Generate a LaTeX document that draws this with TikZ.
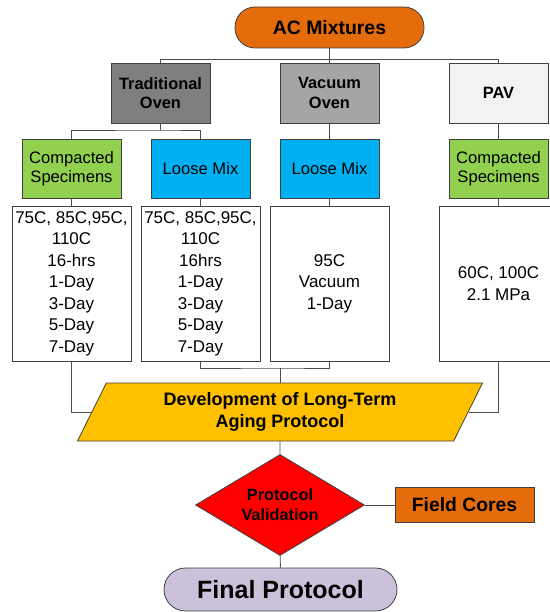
\documentclass[tikz,border=0pt]{standalone}
\usepackage{fontspec}
\setmainfont{Liberation Sans}
\usetikzlibrary{shapes.geometric}
\definecolor{acorange}{HTML}{E46C0A}
\definecolor{ovengrey}{HTML}{7F7F7F}
\definecolor{vacgrey}{HTML}{A5A5A5}
\definecolor{pavgrey}{HTML}{F2F2F2}
\definecolor{mixgreen}{HTML}{92D050}
\definecolor{mixblue}{HTML}{00B0F0}
\definecolor{protoyellow}{HTML}{FFC000}
\definecolor{finallav}{HTML}{CCC1DA}
\begin{document}
\begin{tikzpicture}[x=1pt,y=-1pt,
        box/.style={draw=black!75, line width=0.8pt, align=center, inner sep=0pt, minimum width=99pt, minimum height=60pt, font=\fontsize{16.6}{19.5}\selectfont},
        head/.style={box, font=\fontsize{16.4}{19.5}\selectfont\bfseries},
        data/.style={draw=black!75, line width=0.7pt, align=center, inner sep=0pt, minimum width=119pt, minimum height=155pt, font=\fontsize{17}{21.5}\selectfont},
        pill/.style={draw=black!75, line width=0.8pt, inner sep=0pt},
        link/.style={draw=black!70, line width=0.8pt}]
        \useasboundingbox (0,0) rectangle (549,612);
        \node[pill, fill=acorange, rounded corners=20pt, minimum width=189pt, minimum height=41pt, font=\fontsize{19.4}{22}\selectfont\bfseries] (ac) at (329.5,27.5) {AC Mixtures};
        \node[head, fill=ovengrey] (trad) at (160.5,93) {Traditional\\Oven};
        \node[head, fill=vacgrey] (vac) at (329.5,93) {Vacuum\\Oven};
        \node[head, fill=pavgrey] (pav) at (498.5,93) {PAV};
        \node[box, fill=mixgreen, minimum height=59pt] (comp1) at (71.5,168.5) {Compacted\\Specimens};
        \node[box, fill=mixblue, minimum height=59pt] (loose1) at (200.5,168.5) {Loose Mix};
        \node[box, fill=mixblue, minimum height=59pt] (loose2) at (329.5,168.5) {Loose Mix};
        \node[box, fill=mixgreen, minimum height=59pt] (comp2) at (498.5,168.5) {Compacted\\Specimens};
        \node[data] (cond1) at (71.5,283.5) {75C, 85C,95C,\\110C\\16-hrs\\1-Day\\3-Day\\5-Day\\7-Day};
        \node[data] (cond2) at (200.5,283.5) {75C, 85C,95C,\\110C\\16hrs\\1-Day\\3-Day\\5-Day\\7-Day};
        \node[data] (cond3) at (329.5,283.5) {95C\\Vacuum\\1-Day};
        \node[data] (cond4) at (498.5,283.5) {60C, 100C\\2.1 MPa};
        \node[trapezium, trapezium left angle=63.4, trapezium right angle=116.6, trapezium stretches=true, minimum width=406pt, minimum height=58pt, inner sep=0pt, draw=black!75, line width=0.8pt, fill=protoyellow, align=center, font=\fontsize{18}{21.7}\selectfont\bfseries] (develop) at (280,412) {Development of Long-Term\\Aging Protocol};
        \node[diamond, aspect=1.67, minimum width=169pt, minimum height=101pt, inner sep=0pt, draw=black!75, line width=0.8pt, fill=red, align=center, font=\fontsize{16.3}{20}\selectfont\bfseries] (valid) at (280,505) {Protocol\\Validation};
        \node[pill, fill=acorange, minimum width=139pt, minimum height=35pt, font=\fontsize{19.3}{22}\selectfont\bfseries] (field) at (464.5,505) {Field Cores};
        \node[pill, fill=finallav, rounded corners=21.5pt, minimum width=233pt, minimum height=43pt, font=\fontsize{25}{28}\selectfont\bfseries] (final) at (280.5,589.5) {Final Protocol};
        \coordinate (split) at (160.5,130);
        \coordinate (join) at (280,368);
        \draw[link] (ac) -- (vac);
        \draw[link] (trad.north) -- ++(0,-3.5) -| (pav.north);
        \draw[link] (trad) -- (split);
        \draw[link] (comp1.north) |- (split) -| (loose1.north);
        \draw[link] (vac) -- (loose2);
        \draw[link] (pav) -- (comp2);
        \draw[link] (comp1) -- (cond1);
        \draw[link] (loose1) -- (cond2);
        \draw[link] (loose2) -- (cond3);
        \draw[link] (comp2) -- (cond4);
        \draw[link] (cond2.south) |- (join) -| (cond3.south);
        \draw[link] (join) -- (develop);
        \draw[link] (cond1.south) |- (develop.left side);
        \draw[link] (cond4.south) |- (develop.right side);
        \draw[link] (develop) -- (valid);
        \draw[link] (valid) -- (field);
        \draw[link] (valid) -- (final);
    \end{tikzpicture}
\end{document}
